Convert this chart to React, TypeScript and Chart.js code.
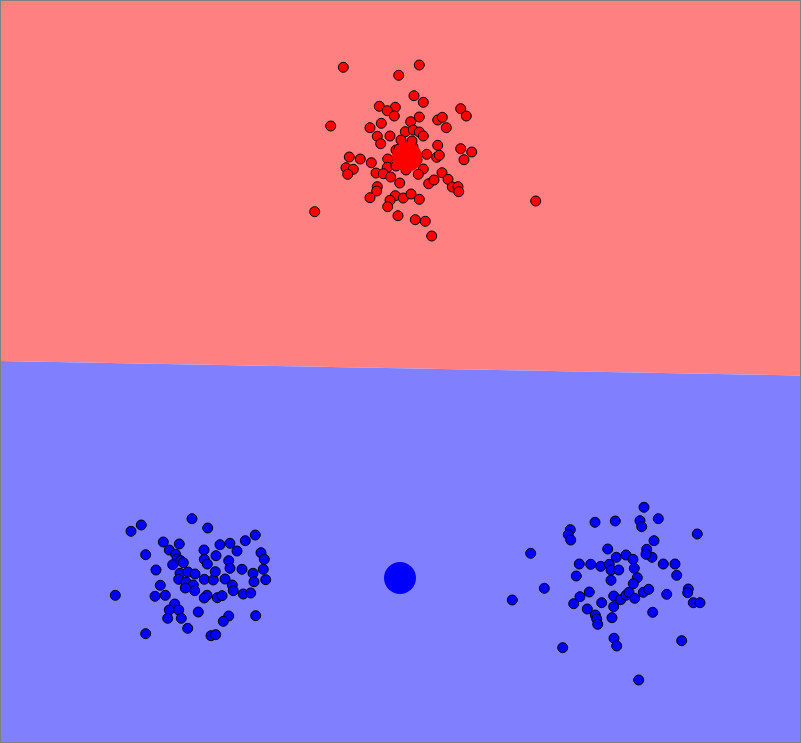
import React, { useEffect, useRef } from "react";
import { Chart, registerables } from "chart.js";

Chart.register(...registerables);

// Boundary line between the two regions (x, y with y measured downwards)
const boundaryX = [0, 801];
const boundaryY = [361, 375.5];

const redPoints: [number, number][] = [
  [343.3, 67.3], [419.3, 65], [398.7, 75.3], [414, 95.7], [423.3, 102.3], [379.3, 106.3],
  [395.3, 107.3], [387.3, 110.7], [394.3, 116], [460.7, 108.7], [466.3, 116], [330.7, 126],
  [381.3, 123.3], [370, 127.7], [410.7, 121.7], [419.3, 117], [437.7, 120], [442.3, 117.3],
  [446.3, 127.7], [405.3, 131.7], [413.3, 130], [419.3, 132], [423.3, 136], [377.3, 136.3],
  [390, 136], [380.7, 143.7], [437.7, 145.3], [460.7, 148.7], [471.7, 152], [464, 159.7],
  [349.3, 157], [360.3, 159], [346, 167.7], [353.3, 169.3], [347.7, 174.3], [371.3, 162.7],
  [387.7, 159], [387.3, 167.3], [396, 150], [426.7, 154.3], [436.7, 157.3], [439.3, 155.3],
  [423.3, 169], [418.3, 174.3], [376, 173], [383.3, 173.7], [390.7, 177], [399.7, 183],
  [377.3, 186.7], [376.7, 191], [370, 197.7], [428.7, 183.7], [434, 180], [442, 172.7],
  [448, 179.3], [452.3, 187], [458, 186.7], [458.7, 191.7], [395.3, 195.7], [390, 200.3],
  [387.7, 206.7], [403.3, 198], [411, 194], [419.3, 199.3], [314.7, 211.7], [535.7, 201],
  [398, 215.7], [415.3, 219.7], [425.3, 221.3], [431.7, 236], [399, 149], [413, 147],
  [417, 160], [406, 170], [396, 166], [401, 140], [412, 141],
];

const bluePoints: [number, number][] = [
  [141.3, 525], [131, 531.3], [192, 518.7], [207.7, 528], [163.3, 542], [179.3, 544],
  [169.3, 550], [145.7, 554.7], [175.7, 554.3], [177.3, 558.7], [172.7, 564.7], [180.7, 560.7],
  [183.3, 562.7], [156, 570], [204, 550], [204.3, 559.3], [207.3, 564], [216, 555.7],
  [220, 544.7], [230, 543.3], [237, 551], [245.3, 540.7], [255.3, 535], [261, 552.7],
  [264.3, 559.3], [228.7, 560.7], [230, 568.3], [242, 569.3], [253, 573.3], [263.3, 569.3],
  [265.7, 579.7], [254, 581.7], [180, 573.3], [188, 572], [195, 574], [178.7, 579.3],
  [186, 582], [193.3, 585], [185.3, 588], [194.7, 590.7], [204.3, 579.3], [213.3, 580],
  [215.3, 571.7], [225, 579], [232.3, 585], [233.3, 590.7], [243.3, 594], [250.7, 593],
  [207, 595.3], [204.3, 598], [217.3, 597.7], [222, 595.7], [160.3, 585.3], [155, 596.3],
  [165.3, 595.3], [115.3, 595.3], [174.7, 604], [169.3, 610], [178.7, 610], [167.7, 618.3],
  [181.3, 618.3], [198.3, 612], [187.7, 628.3], [228.7, 616], [223.3, 621.3], [255.7, 615.7],
  [145.7, 633.7], [211, 635.7], [215.7, 634.7],
  [644, 507.3], [658.3, 518.7], [640, 520.7], [641.7, 526.7], [595, 522.3], [615.3, 521],
  [570.3, 529.7], [568.3, 534.7], [570.7, 540], [697.3, 534], [654, 540.7], [646.7, 549.3],
  [652, 557.3], [646, 554.3], [530.7, 553.3], [607.7, 549], [616.3, 557.3], [626, 555],
  [633, 559.3], [579.3, 564], [590.7, 564.3], [600.7, 566.3], [609.3, 564.3], [576.3, 576],
  [611, 570], [618.7, 570], [634.3, 568.3], [637.3, 577.7], [611, 580.3], [633.3, 583.7],
  [663.3, 564], [675, 564], [676.7, 575.3], [544.3, 588.3], [589.3, 592], [580, 596.7],
  [573.7, 603.7], [512.3, 600], [613.7, 596], [620.7, 599.7], [626, 595.3], [629, 592.3],
  [634.7, 598.3], [643.3, 592.3], [648.7, 589.3], [666.7, 594.3], [688.3, 589], [687.7, 592.7],
  [693.3, 602.7], [700, 602.7], [601.7, 602.7], [613.7, 606.7], [587.3, 609], [595.3, 615],
  [596.7, 619], [597.7, 624.3], [612, 617.7], [652.7, 612.3], [614, 638.3], [616.7, 646],
  [562.7, 647.7], [681.7, 640.7], [638.7, 680],
];

const redCentroid: [number, number] = [407, 157];
const blueCentroid: [number, number] = [400, 578];

const W = 801;
const H = 743;

const toXY = (arr: [number, number][]) => arr.map(([x, y]) => ({ x, y }));

export default function App() {
  const ref = useRef<HTMLCanvasElement | null>(null);

  useEffect(() => {
    if (!ref.current) return;
    const boundary = boundaryX.map((x, i) => ({ x, y: boundaryY[i] }));
    const borderPlugin = {
      id: "frame",
      afterDraw(chart: any) {
        const ctx = chart.ctx;
        ctx.save();
        ctx.strokeStyle = "#808080";
        ctx.lineWidth = 1;
        ctx.strokeRect(0.5, 0.5, W - 1, H - 1);
        ctx.restore();
      },
    };
    const chart = new Chart(ref.current, {
      type: "scatter",
      data: {
        datasets: [
          {
            type: "line",
            data: boundary,
            fill: { value: 0 },
            backgroundColor: "rgb(255,128,128)",
            borderWidth: 0,
            pointRadius: 0,
            order: 10,
          } as any,
          {
            type: "line",
            data: boundary,
            fill: { value: H },
            backgroundColor: "rgb(128,128,255)",
            borderWidth: 0,
            pointRadius: 0,
            order: 9,
          } as any,
          {
            data: toXY(redPoints),
            backgroundColor: "#ff0000",
            borderColor: "#000000",
            borderWidth: 1,
            pointRadius: 5,
            order: 3,
          },
          {
            data: toXY(bluePoints),
            backgroundColor: "#0000ff",
            borderColor: "#000000",
            borderWidth: 1,
            pointRadius: 5,
            order: 3,
          },
          {
            data: [{ x: redCentroid[0], y: redCentroid[1] }],
            backgroundColor: "#ff0000",
            borderWidth: 0,
            pointRadius: 15,
            order: 1,
          },
          {
            data: [{ x: blueCentroid[0], y: blueCentroid[1] }],
            backgroundColor: "#0000ff",
            borderWidth: 0,
            pointRadius: 16,
            order: 1,
          },
        ],
      },
      options: {
        responsive: false,
        animation: false,
        layout: { padding: 0, autoPadding: false },
        plugins: { legend: { display: false }, tooltip: { enabled: false } },
        scales: {
          x: { type: "linear", min: 0, max: W, display: false },
          y: { type: "linear", min: 0, max: H, reverse: true, display: false },
        },
      },
      plugins: [borderPlugin],
    });
    return () => chart.destroy();
  }, []);

  return (
    <div style={{ position: "fixed", left: 0, top: 0, width: W, height: H }}>
      <canvas ref={ref} width={W} height={H} style={{ display: "block" }} />
    </div>
  );
}
